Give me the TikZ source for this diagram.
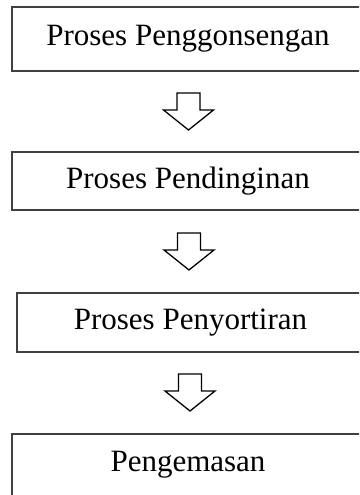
\documentclass[tikz,border=0pt]{standalone}
\usepackage{fontspec}
\setmainfont{Liberation Serif}
\begin{document}
\begin{tikzpicture}[x=1pt,y=-1pt,
  procbox/.style={draw=black!75, line width=1.8pt, fill=white, inner sep=0pt,
    minimum height=#1, font=\fontsize{31}{36}\selectfont, text=black},
  hollow/.pic={\draw[line width=1.3pt, fill=white, line join=miter]
    (-11.5,0) -- (-11.5,17) -- (-25,17) -- (0,37) -- (25,17) -- (11.5,17) -- (11.5,0) -- cycle;}
]
\useasboundingbox (0,0) rectangle (359,495);
\clip (0,0) rectangle (359,495);
\node[procbox=64pt, minimum width=352pt] (b1) at (188,39) {Proses Penggonsengan};
\node[procbox=58pt, minimum width=352pt] (b2) at (188,181) {Proses Pendinginan};
\node[procbox=59pt, minimum width=347pt] (b3) at (190.5,322.5) {Proses Penyortiran};
\node[procbox=62pt, minimum width=352pt] (b4) at (188,465) {Pengemasan};
\coordinate (a1) at (188.5,93);
\coordinate (a2) at (189,233);
\coordinate (a3) at (190,374);
\pic at (a1) {hollow};
\pic at (a2) {hollow};
\pic at (a3) {hollow};
\end{tikzpicture}
\end{document}
